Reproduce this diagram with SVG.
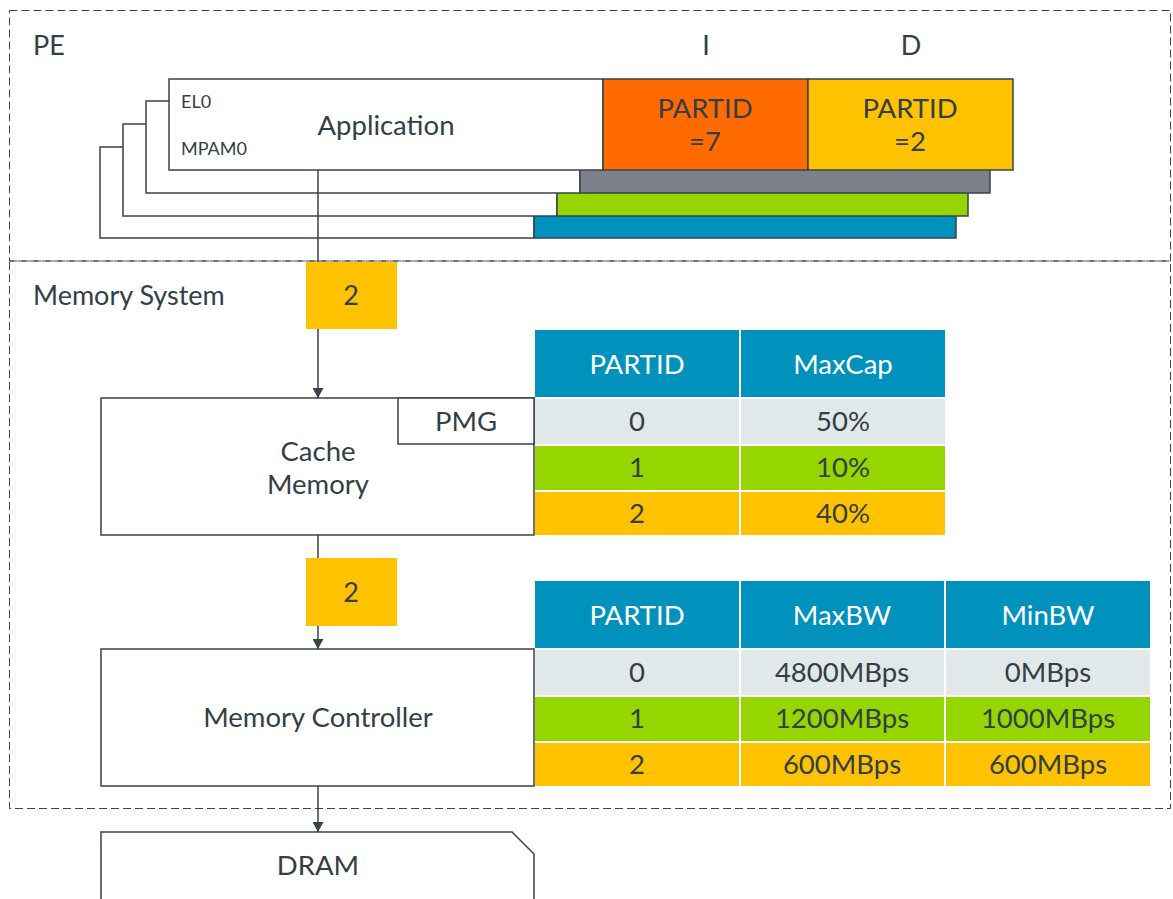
<svg xmlns="http://www.w3.org/2000/svg" width="1173" height="899" viewBox="0 0 1173 899">
<defs>
<marker id="arr" markerWidth="11" markerHeight="11" refX="10" refY="5.5" orient="auto" markerUnits="userSpaceOnUse">
<path d="M0,0 L10,5.5 L0,11 Z" fill="#39424A"/>
</marker>
<style>
text{font-family:Lato,"Open Sans","Liberation Sans",sans-serif;fill:#333E48}
.box{fill:#fff;stroke:#39424A;stroke-width:1.5}
.dash{fill:none;stroke:#3F454C;stroke-width:1;stroke-dasharray:8 4}
.t22{font-size:27px}
.t24{font-size:27.5px}
.t16{font-size:18px}
.mid{text-anchor:middle}
.hdr{fill:#0091BD}
.hdrt{fill:#fff;font-size:27.5px;text-anchor:middle}
.r0{fill:#E1E8E9}
.r1{fill:#95D600}
.r2{fill:#FFC200}
.cell{font-size:27.5px;text-anchor:middle}
.conn{stroke:#39424A;stroke-width:1.5;fill:none}
</style>
</defs>
<g id="regions">
<rect class="dash" x="9.5" y="10.5" width="1161" height="250.5"/>
<rect class="dash" x="9.5" y="261" width="1161" height="547.5"/>
<text class="t22" x="33" y="55">PE</text>
<text class="t22" x="33" y="305">Memory System</text>
<text class="t22 mid" x="706" y="55">I</text>
<text class="t22 mid" x="911" y="55">D</text>
</g>
<g id="layer4">
<rect class="box" x="100" y="147" width="434" height="91"/>
<rect x="534" y="147" width="422" height="91" fill="#0091BD" stroke="#39424A" stroke-width="1.5"/>
</g>
<g id="layer3">
<rect class="box" x="123" y="124" width="434" height="92"/>
<rect x="557" y="124" width="411" height="92" fill="#95D600" stroke="#39424A" stroke-width="1.5"/>
</g>
<g id="layer2">
<rect class="box" x="146" y="101" width="434" height="92"/>
<rect x="580" y="101" width="410" height="92" fill="#7D8189" stroke="#39424A" stroke-width="1.5"/>
</g>
<g id="connectors">
<line class="conn" x1="318" y1="170" x2="318" y2="262"/>
<line class="conn" x1="318" y1="329" x2="318" y2="398" marker-end="url(#arr)"/>
<line class="conn" x1="318" y1="535" x2="318" y2="558"/>
<line class="conn" x1="318" y1="626" x2="318" y2="649" marker-end="url(#arr)"/>
<line class="conn" x1="318" y1="786" x2="318" y2="832" marker-end="url(#arr)"/>
</g>
<g id="application">
<rect class="box" x="169" y="79" width="434" height="91"/>
<text class="t16" x="181" y="108">EL0</text>
<text class="t16" x="181" y="155">MPAM0</text>
<text class="t24 mid" x="386" y="135">Application</text>
</g>
<g id="partid-i">
<rect x="603" y="79" width="205" height="91" fill="#FF6B00" stroke="#39424A" stroke-width="1.5"/>
<text class="t24 mid" x="705" y="118">PARTID</text>
<text class="t24 mid" x="705" y="151">=7</text>
</g>
<g id="partid-d">
<rect x="808" y="79" width="205" height="91" fill="#FFC200" stroke="#39424A" stroke-width="1.5"/>
<text class="t24 mid" x="910" y="118">PARTID</text>
<text class="t24 mid" x="910" y="151">=2</text>
</g>
<g id="tag1">
<rect x="306" y="262" width="91" height="67" fill="#FFC200"/>
<text class="t22 mid" x="351" y="305">2</text>
</g>
<g id="cache">
<rect class="box" x="101" y="398" width="433" height="137"/>
<rect class="box" x="398" y="398" width="136" height="46"/>
<text class="t24 mid" x="466" y="431">PMG</text>
<text class="t24 mid" x="318" y="461">Cache</text>
<text class="t24 mid" x="318" y="494">Memory</text>
</g>
<g id="table-cap">
<rect class="hdr" x="535" y="330" width="204" height="67"/>
<rect class="hdr" x="741" y="330" width="204" height="67"/>
<rect class="r0" x="535" y="399" width="204" height="45"/>
<rect class="r0" x="741" y="399" width="204" height="45"/>
<rect class="r1" x="535" y="446" width="204" height="44"/>
<rect class="r1" x="741" y="446" width="204" height="44"/>
<rect class="r2" x="535" y="492" width="204" height="43"/>
<rect class="r2" x="741" y="492" width="204" height="43"/>
<text class="hdrt" x="637" y="374">PARTID</text>
<text class="hdrt" x="843" y="374">MaxCap</text>
<text class="cell" x="637" y="431">0</text>
<text class="cell" x="843" y="431">50%</text>
<text class="cell" x="637" y="477">1</text>
<text class="cell" x="843" y="477">10%</text>
<text class="cell" x="637" y="523">2</text>
<text class="cell" x="843" y="523">40%</text>
</g>
<g id="tag2">
<rect x="306" y="558" width="91" height="68" fill="#FFC200"/>
<text class="t22 mid" x="351" y="602">2</text>
</g>
<g id="memctrl">
<rect class="box" x="101" y="649" width="433" height="137"/>
<text class="t24 mid" x="318" y="727">Memory Controller</text>
</g>
<g id="table-bw">
<rect class="hdr" x="535" y="581" width="204" height="67"/>
<rect class="hdr" x="741" y="581" width="203" height="67"/>
<rect class="hdr" x="946" y="581" width="204" height="67"/>
<rect class="r0" x="535" y="650" width="204" height="45"/>
<rect class="r0" x="741" y="650" width="203" height="45"/>
<rect class="r0" x="946" y="650" width="204" height="45"/>
<rect class="r1" x="535" y="697" width="204" height="44"/>
<rect class="r1" x="741" y="697" width="203" height="44"/>
<rect class="r1" x="946" y="697" width="204" height="44"/>
<rect class="r2" x="535" y="743" width="204" height="43"/>
<rect class="r2" x="741" y="743" width="203" height="43"/>
<rect class="r2" x="946" y="743" width="204" height="43"/>
<text class="hdrt" x="637" y="625">PARTID</text>
<text class="hdrt" x="842" y="625">MaxBW</text>
<text class="hdrt" x="1048" y="625">MinBW</text>
<text class="cell" x="637" y="682">0</text>
<text class="cell" x="842" y="682">4800MBps</text>
<text class="cell" x="1048" y="682">0MBps</text>
<text class="cell" x="637" y="728">1</text>
<text class="cell" x="842" y="728">1200MBps</text>
<text class="cell" x="1048" y="728">1000MBps</text>
<text class="cell" x="637" y="774">2</text>
<text class="cell" x="842" y="774">600MBps</text>
<text class="cell" x="1048" y="774">600MBps</text>
</g>
<g id="dram">
<path class="box" d="M101,910 L101,832 L512,832 L534,854 L534,910"/>
<text class="t24 mid" x="318" y="875">DRAM</text>
</g>
</svg>
